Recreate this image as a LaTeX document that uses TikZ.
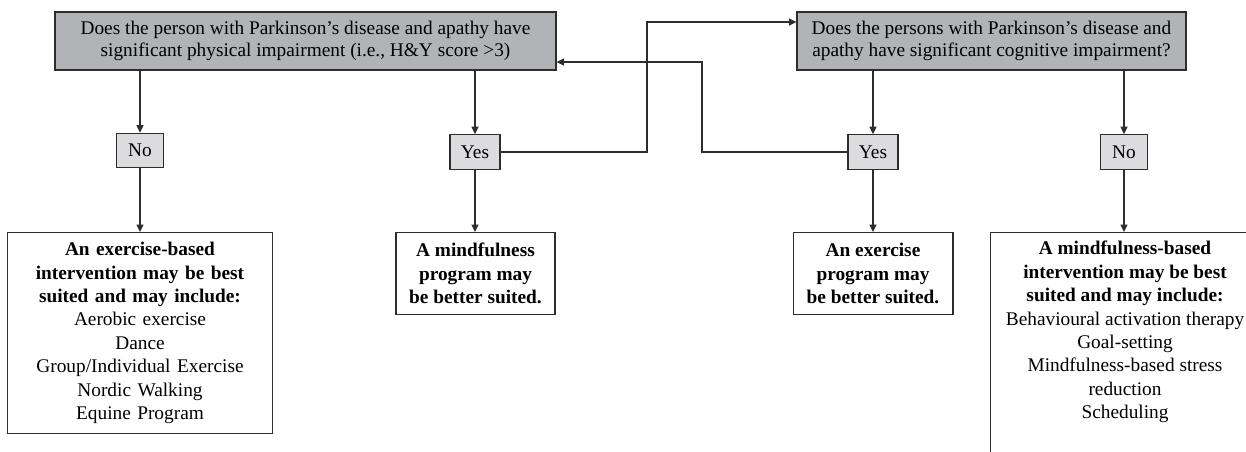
\documentclass[tikz,border=0pt]{standalone}
\usepackage{fontspec}
\setmainfont{Liberation Serif}
\usetikzlibrary{arrows.meta,positioning,calc}
\definecolor{QuestionGray}{RGB}{178,179,183}
\definecolor{AnswerGray}{RGB}{220,220,222}
\definecolor{LineDark}{RGB}{45,45,45}

\begin{document}
\begin{tikzpicture}[x=0.02cm,y=-0.02cm,
    question/.style={draw=LineDark,fill=QuestionGray,line width=0.7pt,
      align=center,font=\fontsize{11}{12.4}\selectfont,inner sep=2pt,
      minimum height=1.16cm},
    answer/.style={draw=LineDark,fill=AnswerGray,line width=0.7pt,
      font=\fontsize{11}{13}\selectfont,minimum height=0.69cm,
      minimum width=0.94cm,inner sep=2pt},
    result/.style={draw=LineDark,fill=white,line width=0.6pt,align=center,
      font=\fontsize{11}{13.3}\selectfont,inner sep=3pt},
    flow/.style={-{Triangle[length=1.5mm,width=1.4mm]},line width=0.7pt,
      draw=LineDark}
  ]
  \useasboundingbox (0,0) rectangle (1246,451);

  % the two questions
  \node[question,minimum width=10.02cm] (physq) at (305.5,41)
    {Does the person with Parkinson’s disease and apathy have\\
     significant physical impairment (i.e., H\&Y score >3)};
  \node[question,minimum width=7.78cm] (cogq) at (991.5,41)
    {Does the persons with Parkinson’s disease and\\
     apathy have significant cognitive impairment?};

  % answers
  \node[answer] (nophys) at (140,150.5) {No};
  \node[answer,minimum width=1cm] (yesphys) at (475,152) {Yes};
  \node[answer,minimum width=1cm] (yescog) at (873,152) {Yes};
  \node[answer] (nocog) at (1124,152) {No};

  % recommendations
  \node[result,anchor=north,text width=5.1cm,minimum height=4.02cm]
    (exbased) at (140,232)
    {\textbf{An exercise-based}\\ \textbf{intervention may be best}\\
     \textbf{suited and may include:}\\ Aerobic exercise\\ Dance\\
     Group/Individual Exercise\\ Nordic Walking\\ Equine Program};
  \node[result,anchor=north,minimum width=3.18cm,minimum height=1.64cm]
    (mindprog) at (475.5,232)
    {\textbf{A mindfulness}\\ \textbf{program may}\\
     \textbf{be better suited.}};
  \node[result,anchor=north,minimum width=3.2cm,minimum height=1.64cm]
    (exprog) at (873,232)
    {\textbf{An exercise}\\ \textbf{program may}\\
     \textbf{be better suited.}};
  \node[result,anchor=north,inner xsep=2pt,inner ysep=5pt] (mindbased) at (1125,232)
    {\parbox[t][4.5cm][t]{5.25cm}{\centering\fontsize{11}{13.3}\selectfont
     \textbf{A mindfulness-based}\\ \textbf{intervention may be best}\\
     \textbf{suited and may include:}\\ Behavioural activation therapy\\
     Goal-setting\\ Mindfulness-based stress\\ reduction\\ Scheduling}};

  \coordinate (jogup) at (647,22);
  \coordinate (jogback) at (702,62);

  \draw[flow] (nophys |- physq.south) -- (nophys.north);
  \draw[flow] (yesphys |- physq.south) -- (yesphys.north);
  \draw[flow] (yescog |- cogq.south) -- (yescog.north);
  \draw[flow] (nocog |- cogq.south) -- (nocog.north);
  \draw[flow] (nophys.south) -- (exbased.north);
  \draw[flow] (yesphys.south) -- (yesphys |- mindprog.north);
  \draw[flow] (yescog.south) -- (exprog.north);
  \draw[flow] (nocog.south) -- (nocog |- mindbased.north);
  \draw[flow] (yesphys.east) -| (jogup) -- (jogup -| cogq.west);
  \draw[flow] (yescog.west) -| (jogback) -- (jogback -| physq.east);
\end{tikzpicture}
\end{document}
